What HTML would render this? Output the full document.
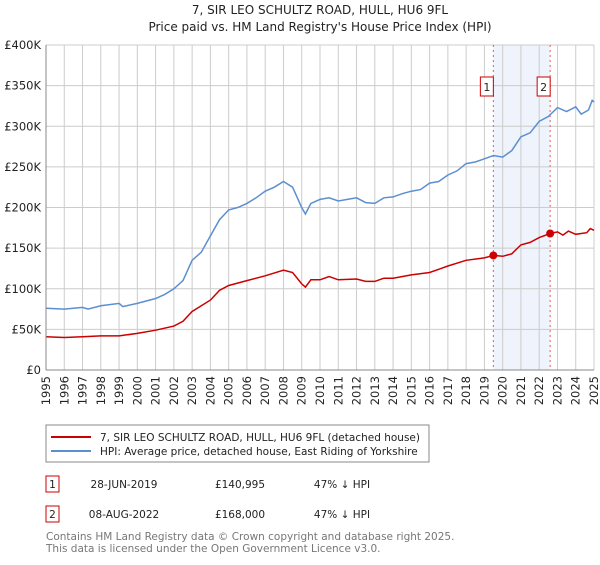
<!DOCTYPE html>
<html><head><meta charset="utf-8"><style>
body{margin:0;background:#fff;font-family:"Liberation Sans","DejaVu Sans",sans-serif;}
svg text{font-family:"DejaVu Sans","Liberation Sans",sans-serif;}
</style></head><body>
<svg width="600" height="560">
<text x="320" y="14" text-anchor="middle" font-size="12" fill="#222">7, SIR LEO SCHULTZ ROAD, HULL, HU6 9FL</text>
<text x="320" y="31" text-anchor="middle" font-size="12" fill="#222">Price paid vs. HM Land Registry's House Price Index (HPI)</text>
<g id="grid"></g><g id="series"></g><g id="axes"></g>
<rect x="46" y="425" width="383" height="37" fill="#fff" stroke="#888"/>
<line x1="51" y1="437" x2="91" y2="437" stroke="#cc0000" stroke-width="2"/>
<text x="100" y="441" font-size="10.5" fill="#222">7, SIR LEO SCHULTZ ROAD, HULL, HU6 9FL (detached house)</text>
<line x1="51" y1="451" x2="91" y2="451" stroke="#5b8fd0" stroke-width="2"/>
<text x="100" y="455" font-size="10.5" fill="#222">HPI: Average price, detached house, East Riding of Yorkshire</text>
<rect x="46" y="476" width="13" height="16" fill="#fff" stroke="#cc0000"/>
<text x="52.5" y="488" font-size="10.5" text-anchor="middle" fill="#222">1</text>
<text x="124" y="488" font-size="10.5" text-anchor="middle" fill="#222">28-JUN-2019</text>
<text x="240" y="488" font-size="10.5" text-anchor="middle" fill="#222">£140,995</text>
<text x="342" y="488" font-size="10.5" text-anchor="middle" fill="#222">47% ↓ HPI</text>
<rect x="46" y="506" width="13" height="16" fill="#fff" stroke="#cc0000"/>
<text x="52.5" y="518" font-size="10.5" text-anchor="middle" fill="#222">2</text>
<text x="124" y="518" font-size="10.5" text-anchor="middle" fill="#222">08-AUG-2022</text>
<text x="240" y="518" font-size="10.5" text-anchor="middle" fill="#222">£168,000</text>
<text x="342" y="518" font-size="10.5" text-anchor="middle" fill="#222">47% ↓ HPI</text>
<text x="46" y="540" font-size="10.5" fill="#777">Contains HM Land Registry data © Crown copyright and database right 2025.</text>
<text x="46" y="552" font-size="10.5" fill="#777">This data is licensed under the Open Government Licence v3.0.</text>
</svg>
<script>
const hpiYears=[1995,1996,1997,1997.3,1998,1999,1999.2,2000,2001,2001.5,2002,2002.5,2003,2003.5,2004,2004.5,2005,2005.5,2006,2006.5,2007,2007.5,2008,2008.5,2009,2009.2,2009.5,2010,2010.5,2011,2011.5,2012,2012.5,2013,2013.5,2014,2014.5,2015,2015.5,2016,2016.5,2017,2017.5,2018,2018.5,2019,2019.5,2020,2020.5,2021,2021.5,2022,2022.5,2023,2023.5,2024,2024.3,2024.7,2024.9,2025];
const hpiValues=[76,75,77,75,79,82,78,82,88,93,100,110,135,145,165,185,197,200,205,212,220,225,232,225,200,192,205,210,212,208,210,212,206,205,212,213,217,220,222,230,232,240,245,254,256,260,264,262,270,287,292,306,312,323,318,324,315,320,332,330];
const ppYears=[1995,1996,1997,1998,1999,2000,2001,2002,2002.5,2003,2004,2004.5,2005,2006,2007,2008,2008.5,2009,2009.2,2009.5,2010,2010.5,2011,2012,2012.5,2013,2013.5,2014,2015,2016,2016.5,2017,2018,2019,2019.5,2020,2020.5,2021,2021.5,2022,2022.6,2023,2023.3,2023.6,2024,2024.6,2024.8,2025];
const ppValues=[41,40,41,42,42,45,49,54,60,72,86,98,104,110,116,123,120,106,102,111,111,115,111,112,109,109,113,113,117,120,124,128,135,138,141,140,143,154,157,163,168,170,166,171,167,169,174,172];
const saleYears=[2019.49,2022.6];
const saleValues=[140.995,168];
const saleLabels=["1","2"];
const yTicks=[0,50,100,150,200,250,300,350,400];
const yTickLabels=["£0","£50K","£100K","£150K","£200K","£250K","£300K","£350K","£400K"];
const xTicks=[1995,1996,1997,1998,1999,2000,2001,2002,2003,2004,2005,2006,2007,2008,2009,2010,2011,2012,2013,2014,2015,2016,2017,2018,2019,2020,2021,2022,2023,2024,2025];

const X0=46,X1=594,Y0=370,Y1=45;
const xs=y=>X0+(y-1995)/30*(X1-X0);
const ys=v=>Y0-v/400*(Y0-Y1);
const NS="http://www.w3.org/2000/svg";
function mk(tag,attrs,parent){const e=document.createElementNS(NS,tag);for(const k in attrs)e.setAttribute(k,attrs[k]);parent.appendChild(e);return e;}
const grid=document.getElementById('grid'),series=document.getElementById('series'),axes=document.getElementById('axes');
const sh=mk('rect',{x:xs(saleYears[0]),y:Y1,width:xs(saleYears[1])-xs(saleYears[0]),height:Y0-Y1,fill:'#eef3fc'},grid);


yTicks.forEach((t,i)=>{
 const l=mk('line',{x1:X0,x2:X1,y1:ys(t),y2:ys(t),stroke:'#ccc'},grid);
 
 
 const tx=mk('text',{x:X0-5,y:ys(t)+4,'text-anchor':'end','font-size':'11.5',fill:'#222'},axes);
 tx.textContent=yTickLabels[i];
 
 
});
xTicks.forEach(t=>{
 const l=mk('line',{x1:xs(t),x2:xs(t),y1:Y1,y2:Y0,stroke:'#ccc'},grid);
 
 
 const tx=mk('text',{x:0,y:0,'text-anchor':'end','font-size':'11.5',fill:'#222',transform:`translate(${xs(t)+4},${Y0+6}) rotate(-90)`},axes);
 tx.textContent=t;
 
 
});
mk('line',{x1:X0,x2:X0,y1:Y1,y2:Y0,stroke:'#888'},axes);
mk('line',{x1:X0,x2:X1,y1:Y0,y2:Y0,stroke:'#888'},axes);
saleYears.forEach((yr,i)=>{
 const l=mk('line',{x1:xs(yr),x2:xs(yr),y1:Y1,y2:Y0,stroke:'#e06060','stroke-dasharray':'2,3'},series);
 
 
 const r=mk('rect',{x:xs(yr)-13,y:77,width:13,height:19,fill:'#fff',stroke:'#cc0000'},series);
 
 
 const tx=mk('text',{x:xs(yr)-6.5,y:91,'text-anchor':'middle','font-size':'11',fill:'#222'},series);
 tx.textContent=saleLabels[i];
});
function path(xa,va,color,name){
 const d=xa.map((x,i)=>(i?'L':'M')+xs(x).toFixed(1)+','+ys(va[i]).toFixed(1)).join('');
 const p=mk('path',{d:d,fill:'none',stroke:color,'stroke-width':1.5},series);
 
 
}
path(hpiYears,hpiValues,'#5b8fd0','hpi-line');
path(ppYears,ppValues,'#cc0000','property-line');
saleYears.forEach((yr,i)=>{
 const c=mk('circle',{cx:xs(yr),cy:ys(saleValues[i]),r:4,fill:'#cc0000'},series);
 
 
});
</script>
</body></html>
